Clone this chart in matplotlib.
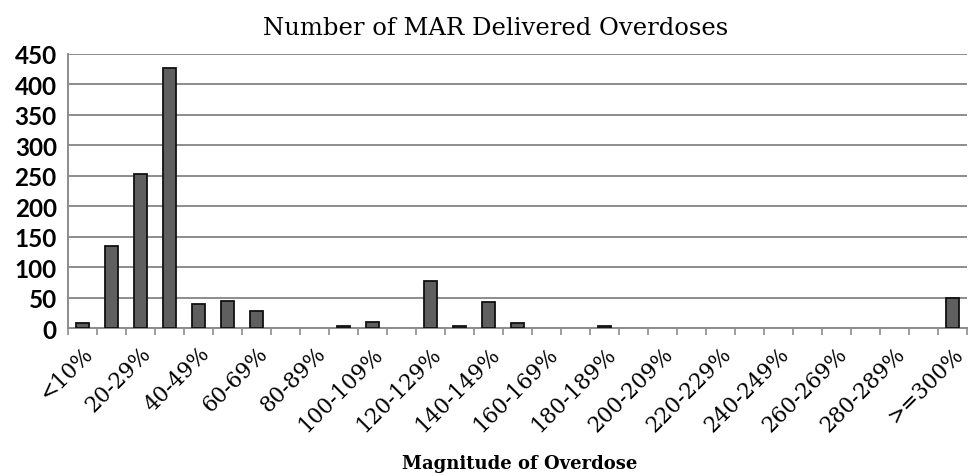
import numpy as np
import matplotlib.pyplot as plt

# overdose magnitude bins, 10-point steps up to 299%, then the open top bin
categories = ['<10%'] + [f'{lo}-{lo + 9}%' for lo in range(10, 300, 10)] + ['>=300%']
counts = [9, 135, 253, 427, 39, 45, 28, 0, 0, 3,
          10, 0, 78, 3, 43, 9, 0, 0, 3, 0,
          0, 0, 0, 0, 0, 0, 0, 0, 0, 0,
          50]

x = np.arange(len(categories))
counts = np.array(counts)
nz = counts > 0  # empty bins get no bar outline

fig = plt.figure(figsize=(9.69, 4.77), dpi=100)
ax = fig.add_axes([0.070, 0.310, 0.928, 0.575])

ax.bar(x[nz], counts[nz], width=0.45, color='#5f5f5f', edgecolor='#111111', linewidth=1.3, zorder=3)

ax.set_xlim(-0.5, len(categories) - 0.5)
ax.set_ylim(0, 450)
ax.set_yticks(range(0, 451, 50))
ax.yaxis.grid(True, color='#8c8c8c', linewidth=1.4, zorder=0)

# labels on every other bin, tick marks on the bin boundaries
ax.set_xticks(x[::2])
ax.set_xticklabels(categories[::2], rotation=45, ha='right', rotation_mode='anchor',
                   family='DejaVu Serif', fontsize=15.5)
ax.tick_params(axis='x', which='major', length=0, pad=10)
ax.set_xticks(np.arange(-0.5, len(categories), 1), minor=True)
ax.tick_params(axis='x', which='minor', length=5, width=1.2, color='#8c8c8c', direction='out')

for lbl in ax.get_yticklabels():
    lbl.set_family('Lato')
    lbl.set_fontweight('bold')
    lbl.set_fontsize(17.5)
ax.tick_params(axis='y', length=0, pad=8)

for side in ['top', 'right']:
    ax.spines[side].set_visible(False)
for side in ['left', 'bottom']:
    ax.spines[side].set_color('#8c8c8c')
    ax.spines[side].set_linewidth(1.4)

fig.text(0.511, 0.94, 'Number of MAR Delivered Overdoses', ha='center', va='center',
         family='DejaVu Serif', fontsize=17.5)
fig.text(0.536, 0.028, 'Magnitude of Overdose', ha='center', va='center',
         family='DejaVu Serif', fontweight='bold', fontsize=13)

plt.savefig('out.png', dpi=100)
